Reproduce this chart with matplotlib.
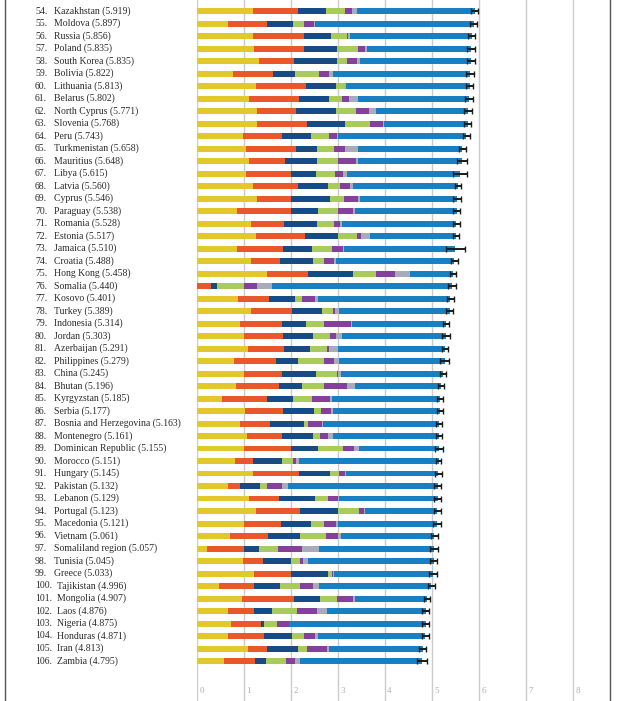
import matplotlib
matplotlib.use("Agg")
import matplotlib.pyplot as plt
import matplotlib.transforms as mtransforms
from matplotlib.lines import Line2D
import numpy as np

ranks = list(range(54, 107))
countries = ["Kazakhstan", "Moldova", "Russia", "Poland", "South Korea", "Bolivia",
             "Lithuania", "Belarus", "North Cyprus", "Slovenia", "Peru", "Turkmenistan",
             "Mauritius", "Libya", "Latvia", "Cyprus", "Paraguay", "Romania", "Estonia",
             "Jamaica", "Croatia", "Hong Kong", "Somalia", "Kosovo", "Turkey", "Indonesia",
             "Jordan", "Azerbaijan", "Philippines", "China", "Bhutan", "Kyrgyzstan",
             "Serbia", "Bosnia and Herzegovina", "Montenegro", "Dominican Republic",
             "Morocco", "Hungary", "Pakistan", "Lebanon", "Portugal", "Macedonia",
             "Vietnam", "Somaliland region", "Tunisia", "Greece", "Tajikistan",
             "Mongolia", "Laos", "Nigeria", "Honduras", "Iran", "Zambia"]
scores = [5.919, 5.897, 5.856, 5.835, 5.835, 5.822, 5.813, 5.802, 5.771, 5.768,
          5.743, 5.658, 5.648, 5.615, 5.560, 5.546, 5.538, 5.528, 5.517, 5.510,
          5.488, 5.458, 5.440, 5.401, 5.389, 5.314, 5.303, 5.291, 5.279, 5.245,
          5.196, 5.185, 5.177, 5.163, 5.161, 5.155, 5.151, 5.145, 5.132, 5.129,
          5.123, 5.121, 5.061, 5.057, 5.045, 5.033, 4.996, 4.907, 4.876, 4.875,
          4.871, 4.813, 4.795]
gdp = [1.21, 0.68, 1.21, 1.23, 1.34, 0.78, 1.26, 1.12, 1.29, 1.28,
       0.99, 1.06, 1.12, 1.05, 1.21, 1.29, 0.87, 1.15, 1.26, 0.87,
       1.17, 1.51, 0.00, 0.89, 1.15, 0.93, 1.00, 1.10, 0.80, 1.01,
       0.83, 0.54, 1.03, 0.93, 1.07, 1.01, 0.81, 1.21, 0.68, 1.12,
       1.27, 1.01, 0.71, 0.23, 0.98, 1.22, 0.47, 0.96, 0.67, 0.73,
       0.67, 1.10, 0.59]
social = [0.96, 0.83, 1.07, 1.06, 0.74, 0.84, 1.06, 1.06, 0.82, 1.08,
          0.82, 1.05, 0.77, 0.97, 0.94, 0.72, 1.13, 0.72, 1.05, 0.98,
          0.60, 0.86, 0.31, 0.65, 0.88, 0.89, 0.85, 0.77, 0.89, 0.81,
          0.92, 0.96, 0.81, 0.64, 0.75, 1.01, 0.40, 0.97, 0.25, 0.64,
          0.94, 0.79, 0.81, 0.78, 0.43, 0.78, 0.76, 1.11, 0.55, 0.65,
          0.77, 0.40, 0.65]
health = [0.58, 0.54, 0.59, 0.69, 0.90, 0.48, 0.65, 0.63, 0.86, 0.79,
          0.62, 0.45, 0.67, 0.52, 0.65, 0.84, 0.59, 0.69, 0.70, 0.60,
          0.71, 0.97, 0.13, 0.56, 0.65, 0.50, 0.62, 0.55, 0.48, 0.73,
          0.50, 0.55, 0.65, 0.72, 0.65, 0.57, 0.60, 0.67, 0.42, 0.76,
          0.79, 0.64, 0.68, 0.33, 0.60, 0.80, 0.55, 0.55, 0.39, 0.06,
          0.59, 0.65, 0.23]
freedom = [0.40, 0.24, 0.33, 0.45, 0.23, 0.51, 0.18, 0.28, 0.43, 0.54,
           0.38, 0.37, 0.45, 0.40, 0.26, 0.29, 0.43, 0.36, 0.41, 0.43,
           0.23, 0.48, 0.58, 0.14, 0.23, 0.40, 0.36, 0.36, 0.55, 0.43,
           0.46, 0.40, 0.16, 0.09, 0.15, 0.53, 0.25, 0.18, 0.14, 0.27,
           0.45, 0.27, 0.55, 0.39, 0.20, 0.09, 0.43, 0.37, 0.52, 0.27,
           0.26, 0.20, 0.43]
generosity = [0.16, 0.20, 0.03, 0.15, 0.21, 0.21, 0.02, 0.16, 0.26, 0.27,
              0.17, 0.23, 0.38, 0.17, 0.20, 0.30, 0.30, 0.14, 0.07, 0.24,
              0.21, 0.41, 0.27, 0.29, 0.04, 0.57, 0.14, 0.04, 0.21, 0.03,
              0.50, 0.39, 0.21, 0.30, 0.18, 0.23, 0.05, 0.13, 0.32, 0.23,
              0.12, 0.25, 0.25, 0.52, 0.05, 0.01, 0.26, 0.35, 0.44, 0.25,
              0.23, 0.42, 0.20]
trust = [0.11, 0.03, 0.04, 0.04, 0.05, 0.09, 0.02, 0.18, 0.16, 0.03,
         0.03, 0.28, 0.04, 0.10, 0.07, 0.04, 0.06, 0.04, 0.20, 0.02,
         0.04, 0.32, 0.31, 0.05, 0.09, 0.02, 0.12, 0.19, 0.10, 0.06,
         0.16, 0.04, 0.04, 0.02, 0.11, 0.11, 0.07, 0.02, 0.13, 0.02,
         0.02, 0.04, 0.07, 0.36, 0.11, 0.02, 0.14, 0.04, 0.21, 0.01,
         0.06, 0.04, 0.11]
ci_half = [0.08, 0.08, 0.08, 0.08, 0.08, 0.08, 0.08, 0.08, 0.09, 0.08,
           0.08, 0.08, 0.10, 0.15, 0.07, 0.08, 0.07, 0.08, 0.07, 0.20,
           0.07, 0.07, 0.09, 0.07, 0.07, 0.06, 0.08, 0.07, 0.09, 0.06,
           0.06, 0.06, 0.06, 0.07, 0.07, 0.08, 0.05, 0.07, 0.08, 0.08,
           0.07, 0.08, 0.08, 0.08, 0.08, 0.08, 0.07, 0.07, 0.07, 0.07,
           0.07, 0.07, 0.10]
xticks = [0, 1, 2, 3, 4, 5, 6, 7, 8]

colors = ["#E3C82B", "#E9572B", "#174B86", "#A8CB5B", "#84409A", "#A8ABBA", "#1880C2"]

W, H = 620, 701
fig = plt.figure(figsize=(W / 100, H / 100), dpi=100)
fig.patch.set_facecolor("white")

x0_px, unit_px = 196.5, 47.0
right_px = 610
ax = fig.add_axes([x0_px / W, 0, (right_px - x0_px) / W, 1])
ax.set_xlim(0, (right_px - x0_px) / unit_px)
row0_px, pitch = 11.0, 12.5
ax.set_ylim((H - row0_px) / pitch, -row0_px / pitch)
for s in ax.spines.values():
    s.set_visible(False)
ax.set_xticks([])
ax.set_yticks([])

for t in xticks:
    ax.axvline(t, color="#cbcbcb", lw=1.0, zorder=0)
    ax.text(t + 0.06, (691 - row0_px) / pitch, str(t), fontsize=6.5,
            color="#b0b0b0", family="Liberation Serif", va="center", ha="left")

n = len(countries)
y = np.arange(n)
comps = [gdp, social, health, freedom, generosity, trust]
left = np.zeros(n)
for vals, c in zip(comps, colors[:6]):
    v = np.array(vals)
    ax.barh(y, v, left=left, height=0.48, color=c, lw=0, zorder=2)
    left = left + v
resid = np.array(scores) - left
ax.barh(y, resid, left=left, height=0.48, color=colors[6], lw=0, zorder=2)
ax.errorbar(scores, y, xerr=ci_half, fmt="none", ecolor="#1a1a1a",
            elinewidth=1.4, capsize=2.2, capthick=1.0, zorder=3)

tr = mtransforms.blended_transform_factory(fig.transFigure, ax.transData)
for i in range(n):
    r = ranks[i]
    ax.text(35 / W, i, f"{r}.", transform=tr, fontsize=7.0, color="#2a2a2a",
            family="Liberation Serif", va="center", ha="left", clip_on=False)
    nx = 54 if r < 100 else 57
    ax.text(nx / W, i, f"{countries[i]} ({scores[i]:.3f})", transform=tr,
            fontsize=7.0, color="#2a2a2a", family="Liberation Serif",
            va="center", ha="left", clip_on=False)

for xp in (5, 610):
    fig.add_artist(Line2D([xp / W, xp / W], [0, 1], transform=fig.transFigure,
                          color="#555555", lw=1.0))

fig.savefig("out.png", dpi=100)
